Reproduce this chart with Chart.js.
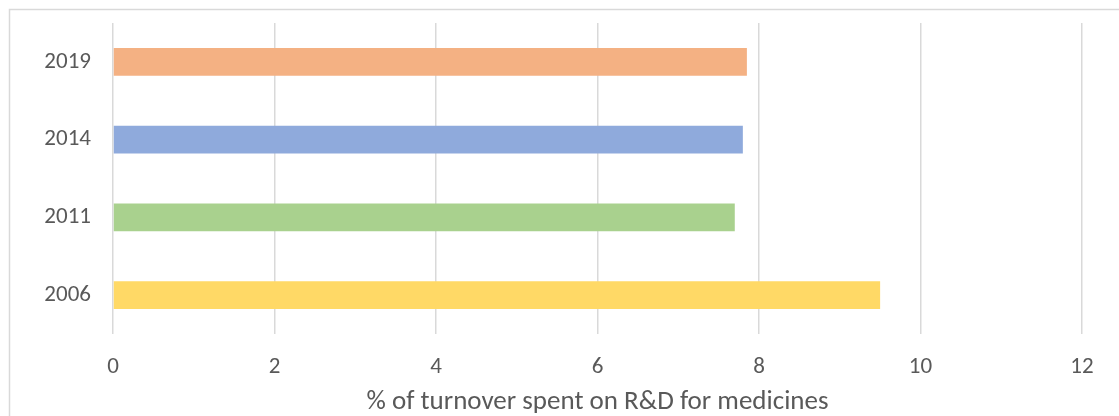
<!DOCTYPE html>
<html>
<head>
<meta charset="utf-8">
<script src="https://cdn.jsdelivr.net/npm/chart.js@4/dist/chart.umd.min.js"></script>
<style>
  html, body { margin: 0; padding: 0; background: #ffffff; }
  #wrap { width: 1119px; height: 416px; position: relative; }
</style>
</head>
<body>
<div id="wrap"><canvas id="c" width="1119" height="416"></canvas></div>
<script>
const categories = ["2019", "2014", "2011", "2006"];
const values = [7.85, 7.8, 7.7, 9.5];
const barColors = ["#F4B183", "#8FAADC", "#A9D18E", "#FFD966"];
const xTicks = [0, 2, 4, 6, 8, 10, 12];
const xTitle = "% of turnover spent on R&D for medicines";

const FONT = "Carlito, Calibri, 'Open Sans', sans-serif";
const TEXT = "#595959";

const framePlugin = {
  id: 'frame',
  beforeDraw(chart) {
    const ctx = chart.ctx;
    ctx.save();
    ctx.fillStyle = '#ffffff';
    ctx.fillRect(0, 0, chart.width, chart.height);
    ctx.strokeStyle = '#d9d9d9';
    ctx.lineWidth = 1.5;
    ctx.beginPath();
    ctx.moveTo(9.5, chart.height);
    ctx.lineTo(9.5, 9.5);
    ctx.lineTo(chart.width, 9.5);
    ctx.stroke();
    ctx.restore();
  }
};

new Chart(document.getElementById('c'), {
  type: 'bar',
  data: {
    labels: categories,
    datasets: [{
      data: values,
      backgroundColor: barColors,
      borderWidth: 0,
      categoryPercentage: 1,
      barPercentage: 0.36
    }]
  },
  options: {
    indexAxis: 'y',
    responsive: false,
    animation: false,
    devicePixelRatio: 1,
    layout: { padding: { top: 23, right: 37, left: 0, bottom: 0 } },
    plugins: { legend: { display: false }, tooltip: { enabled: false } },
    scales: {
      x: {
        min: 0, max: 12,
        afterBuildTicks(scale) { scale.ticks = xTicks.map(v => ({ value: v })); },
        afterFit(scale) {
          scale.height = 82;
          scale.paddingLeft = 0; scale.paddingRight = 0;
        },
        grid: { color: '#d9d9d9', lineWidth: 1.5, drawTicks: false },
        border: { display: false },
        ticks: { color: TEXT, font: { family: FONT, size: 23 }, padding: 19 },
        title: {
          display: true, text: xTitle, color: TEXT,
          font: { family: FONT, size: 27, lineHeight: 1 }, padding: { top: 0, bottom: 0 }
        }
      },
      y: {
        afterFit(scale) {
          scale.width = 113;
          scale.paddingTop = 0; scale.paddingBottom = 0;
        },
        grid: { display: false },
        border: { display: false },
        ticks: { color: TEXT, font: { family: FONT, size: 23 }, padding: 14 }
      }
    }
  },
  plugins: [framePlugin]
});
</script>
</body>
</html>
